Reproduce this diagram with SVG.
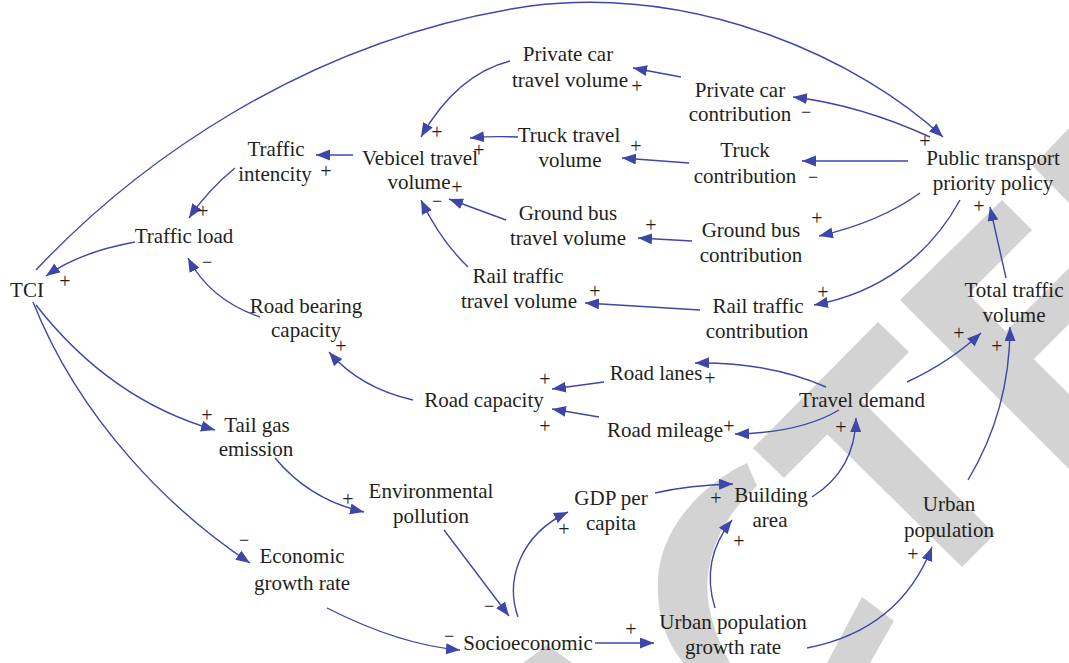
<svg xmlns="http://www.w3.org/2000/svg" width="1069" height="663" viewBox="0 0 1069 663">
<defs>
<style>
.t{font-family:"Liberation Serif","Times New Roman",serif;font-size:21px;fill:#231f20;text-anchor:middle}
.s{font-family:"Liberation Serif","Times New Roman",serif;font-size:20px;fill:#231f20;text-anchor:middle}
.m{font-family:"Liberation Serif","Times New Roman",serif;font-size:18px;fill:#231f20;text-anchor:middle}
.c{fill:none;stroke:#3e46a9;stroke-width:1.4;marker-end:url(#ah)}
.wm{fill:#d3d3d3;stroke:none}
</style>
<marker id="ah" markerWidth="15" markerHeight="12" refX="14" refY="5.5" orient="auto" markerUnits="userSpaceOnUse">
<path d="M0,0 L14,5.5 L0,11 Z" fill="#3e46a9"/>
</marker>
</defs>
<rect width="1069" height="663" fill="#ffffff"/>
<g id="watermark">
<path class="wm" d="M878,322 L909,352 L784,478 L753,448 Z"/>
<path class="wm" d="M827,434 L861,400 L995,534 L962,567 Z"/>
<path class="wm" d="M1002,200 L1032,230 L968,294 L1069,394 L1069,469 L900,300 Z"/>
<path class="wm" d="M1069,268 L1006,331 L1033,360 L1069,324 Z"/>
<path class="wm" d="M1069,128 L1033,166 L1069,203 Z"/>
<path class="wm" d="M523,663 L547,645 L572,663 Z"/>
<path class="wm" d="M747,463 C700,485 660,530 658,580 C656,620 670,650 690,670 L690,700 L860,700 L870,663 L894,621 L862,597 L827,663 L827,680 L735,680 L730,663 C712,630 705,600 708,575 C712,540 730,510 757,486 Z"/>
</g>
<g id="connectors">
<path class="c" d="M36,270 C130,170 300,40 530,6 C700,-15 860,60 943,137"/>
<path class="c" d="M681,77 L633,68"/>
<path class="c" d="M510,61 C475,70 445,95 421,137"/>
<path class="c" d="M518,137 Q490,136 470,138"/>
<path class="c" d="M689,163 L622,158"/>
<path class="c" d="M908,161 L802,161"/>
<path class="c" d="M930,137 Q860,105 793,97"/>
<path class="c" d="M920,193 Q880,222 819,236"/>
<path class="c" d="M960,200 C930,255 880,293 814,305"/>
<path class="c" d="M692,241 L638,238"/>
<path class="c" d="M700,310 L585,303"/>
<path class="c" d="M353,155 L316,155"/>
<path class="c" d="M235,168 Q208,190 189,218"/>
<path class="c" d="M135,242 Q80,252 46,276"/>
<path class="c" d="M260,317 Q210,300 188,258"/>
<path class="c" d="M413,400 Q360,388 329,352"/>
<path class="c" d="M506,220 L449,199"/>
<path class="c" d="M468,267 Q440,240 421,200"/>
<path class="c" d="M604,382 L552,389"/>
<path class="c" d="M599,417 L552,409"/>
<path class="c" d="M826,387 Q770,362 695,363"/>
<path class="c" d="M839,410 Q800,433 735,434"/>
<path class="c" d="M812,497 Q855,470 856,418"/>
<path class="c" d="M655,493 Q690,485 733,484"/>
<path class="c" d="M907,382 Q950,362 981,333"/>
<path class="c" d="M968,480 Q1010,410 1010,327"/>
<path class="c" d="M1006,278 L990,207"/>
<path class="c" d="M807,648 Q900,630 932,547"/>
<path class="c" d="M715,608 Q700,560 732,520"/>
<path class="c" d="M595,643 L654,643"/>
<path class="c" d="M518,617 C505,580 520,535 568,512"/>
<path class="c" d="M444,530 L509,616"/>
<path class="c" d="M327,608 Q400,645 460,650"/>
<path class="c" d="M36,305 Q110,400 215,430"/>
<path class="c" d="M33,302 C80,420 170,510 250,563"/>
<path class="c" d="M275,458 Q310,500 364,512"/>
<g id="polarities">
<text class="s" x="637" y="93">+</text>
<text class="m" x="806" y="118">−</text>
<text class="s" x="925" y="148">+</text>
<text class="s" x="437" y="139">+</text>
<text class="s" x="479" y="157">+</text>
<text class="s" x="636" y="153">+</text>
<text class="m" x="813" y="183">−</text>
<text class="s" x="326" y="178">+</text>
<text class="s" x="457" y="194">+</text>
<text class="m" x="437" y="207">−</text>
<text class="s" x="203" y="218">+</text>
<text class="m" x="207" y="268">−</text>
<text class="s" x="65" y="288">+</text>
<text class="s" x="651" y="232">+</text>
<text class="s" x="817" y="225">+</text>
<text class="s" x="979" y="213">+</text>
<text class="s" x="595" y="298">+</text>
<text class="s" x="823" y="299">+</text>
<text class="s" x="341" y="353">+</text>
<text class="s" x="959" y="340">+</text>
<text class="s" x="997" y="353">+</text>
<text class="s" x="545" y="386">+</text>
<text class="s" x="545" y="433">+</text>
<text class="s" x="710" y="385">+</text>
<text class="s" x="729" y="433">+</text>
<text class="s" x="841" y="434">+</text>
<text class="s" x="207" y="422">+</text>
<text class="s" x="348" y="506">+</text>
<text class="m" x="244" y="546">−</text>
<text class="s" x="716" y="505">+</text>
<text class="s" x="564" y="536">+</text>
<text class="s" x="739" y="548">+</text>
<text class="s" x="913" y="561">+</text>
<text class="m" x="489" y="612">−</text>
<text class="m" x="449" y="642">−</text>
<text class="s" x="631" y="636">+</text>
</g>
</g>
<g id="private-car-travel-volume"><text class="t"><tspan x="568" y="61">Private car</tspan><tspan x="570" y="87">travel volume</tspan></text></g>
<g id="private-car-contribution"><text class="t"><tspan x="740" y="97">Private car</tspan><tspan x="740" y="121">contribution</tspan></text></g>
<g id="truck-travel-volume"><text class="t"><tspan x="569" y="142">Truck travel</tspan><tspan x="570" y="167">volume</tspan></text></g>
<g id="truck-contribution"><text class="t"><tspan x="745" y="157">Truck</tspan><tspan x="745" y="183">contribution</tspan></text></g>
<g id="public-transport-priority-policy"><text class="t"><tspan x="993" y="165">Public transport</tspan><tspan x="993" y="190">priority policy</tspan></text></g>
<g id="traffic-intencity"><text class="t"><tspan x="276" y="156">Traffic</tspan><tspan x="275" y="181">intencity</tspan></text></g>
<g id="vebicel-travel-volume"><text class="t"><tspan x="420" y="165">Vebicel travel</tspan><tspan x="419" y="189">volume</tspan></text></g>
<g id="traffic-load"><text class="t" x="184" y="243">Traffic load</text></g>
<g id="tci"><text class="t" x="27" y="297">TCI</text></g>
<g id="ground-bus-travel-volume"><text class="t"><tspan x="568" y="220">Ground bus</tspan><tspan x="568" y="245">travel volume</tspan></text></g>
<g id="ground-bus-contribution"><text class="t"><tspan x="751" y="237">Ground bus</tspan><tspan x="751" y="262">contribution</tspan></text></g>
<g id="rail-traffic-travel-volume"><text class="t"><tspan x="518" y="283">Rail traffic</tspan><tspan x="519" y="308">travel volume</tspan></text></g>
<g id="rail-traffic-contribution"><text class="t"><tspan x="758" y="313">Rail traffic</tspan><tspan x="757" y="338">contribution</tspan></text></g>
<g id="total-traffic-volume"><text class="t"><tspan x="1014" y="297">Total traffic</tspan><tspan x="1014" y="322">volume</tspan></text></g>
<g id="road-bearing-capacity"><text class="t"><tspan x="306" y="313">Road bearing</tspan><tspan x="306" y="337">capacity</tspan></text></g>
<g id="road-lanes"><text class="t" x="656" y="380">Road lanes</text></g>
<g id="road-capacity"><text class="t" x="484" y="407">Road capacity</text></g>
<g id="travel-demand"><text class="t" x="862" y="407">Travel demand</text></g>
<g id="road-mileage"><text class="t" x="665" y="437">Road mileage</text></g>
<g id="tail-gas-emission"><text class="t"><tspan x="257" y="432">Tail gas</tspan><tspan x="256" y="456">emission</tspan></text></g>
<g id="environmental-pollution"><text class="t"><tspan x="431" y="498">Environmental</tspan><tspan x="431" y="523">pollution</tspan></text></g>
<g id="gdp-per-capita"><text class="t"><tspan x="611" y="505">GDP per</tspan><tspan x="611" y="530">capita</tspan></text></g>
<g id="building-area"><text class="t"><tspan x="771" y="502">Building</tspan><tspan x="770" y="527">area</tspan></text></g>
<g id="urban-population"><text class="t"><tspan x="949" y="511">Urban</tspan><tspan x="949" y="537">population</tspan></text></g>
<g id="economic-growth-rate"><text class="t"><tspan x="302" y="563">Economic</tspan><tspan x="302" y="590">growth rate</tspan></text></g>
<g id="socioeconomic"><text class="t" x="528" y="650">Socioeconomic</text></g>
<g id="urban-population-growth-rate"><text class="t"><tspan x="733" y="629">Urban population</tspan><tspan x="733" y="654">growth rate</tspan></text></g>
</svg>
